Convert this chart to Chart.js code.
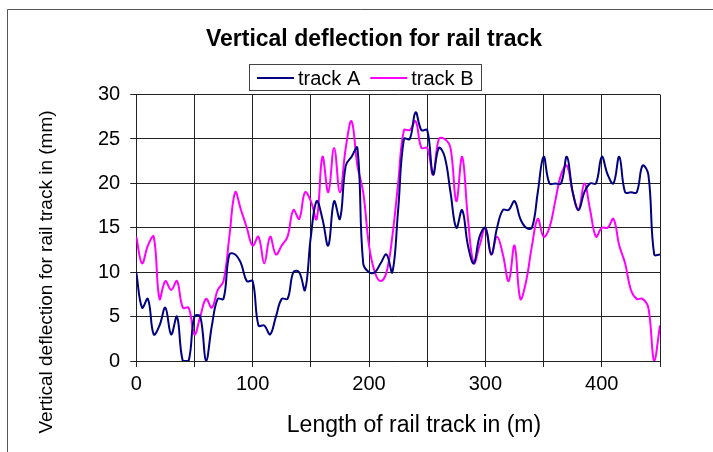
<!DOCTYPE html>
<html>
<head>
<meta charset="utf-8">
<script src="https://cdn.jsdelivr.net/npm/chart.js@4.4.1/dist/chart.umd.min.js"></script>
<style>
  html, body { margin: 0; padding: 0; background: #fff; }
  #wrap { width: 713px; height: 452px; }
</style>
</head>
<body>
<div id="wrap"><canvas id="chart"></canvas></div>
<script>
// distance along the track (m)
const distance = [
  0, 5, 10, 15, 20, 25, 30, 35, 40, 45,
  50, 55, 60, 65, 70, 75, 80, 85, 90, 95,
  100, 105, 110, 115, 120, 125, 130, 135, 140, 145,
  150, 155, 160, 165, 170, 175, 180, 185, 190, 195,
  200, 205, 210, 215, 220, 225, 230, 235, 240, 245,
  250, 255, 260, 265, 270, 275, 280, 285, 290, 295,
  300, 305, 310, 315, 320, 325, 330, 335, 340, 345,
  350, 355, 360, 365, 370, 375, 380, 385, 390, 395,
  400, 405, 410, 415, 420, 425, 430, 435, 440, 445,
  450
];

// vertical deflection (mm)
const trackA = [
  10, 6, 7, 3, 4, 6, 3, 5, 0, 0,
  5, 5, 0, 4, 7, 7, 12, 12, 11, 9,
  9, 4, 4, 3, 5, 7, 7, 10, 10, 8,
  14, 18, 16, 13, 18, 16, 22, 23, 24, 11,
  10, 10, 11, 12, 10, 17, 25, 25, 28, 26,
  26, 21, 24, 23, 19, 15, 17, 13, 11, 14,
  15, 12, 15, 17, 17, 18, 16, 15, 15, 19,
  23, 20, 20, 20, 23, 19, 17, 19, 20, 20,
  23, 21, 20, 23, 19, 19, 19, 22, 21, 12,
  12
];

const trackB = [
  14, 11, 13, 14, 7, 9, 8, 9, 6, 6,
  3, 5, 7, 6, 8, 9, 14, 19, 17, 15,
  13, 14, 11, 14, 12, 13, 14, 17, 16, 19,
  18, 16, 23, 19, 24, 19, 24, 27, 22, 19,
  13, 10, 9, 10, 14, 20, 26, 26, 27, 24,
  24, 21, 25, 25, 24, 18, 23, 16, 11, 13,
  15, 12, 14, 12, 9, 13, 7, 9, 13, 16,
  14, 15, 18, 21, 22, 19, 17, 20, 17, 14,
  15, 15, 16, 13, 11, 8, 7, 7, 6, 0,
  4
];

const xTickLabels = [0, 100, 200, 300, 400];
const yTickLabels = [0, 5, 10, 15, 20, 25, 30];

const fontFamily = '"Liberation Sans", Arial, sans-serif';
const gridColor = '#222';

// frame, custom legend box and axis titles
const decorations = {
  id: 'decorations',
  beforeDraw(chart) {
    const ctx = chart.ctx;
    ctx.save();
    ctx.fillStyle = '#fff';
    ctx.fillRect(0, 0, chart.width, chart.height);
    ctx.strokeStyle = '#555';
    ctx.lineWidth = 1;
    ctx.beginPath();
    ctx.moveTo(7.5, chart.height);
    ctx.lineTo(7.5, 9.5);
    ctx.lineTo(chart.width, 9.5);
    ctx.stroke();
    ctx.restore();
  },
  afterDraw(chart) {
    const ctx = chart.ctx;
    ctx.save();

    // legend
    ctx.font = '20px ' + fontFamily;
    ctx.textBaseline = 'middle';
    const sample = 37, gap = 4, between = 10, pad = 8;
    const items = chart.data.datasets.map(ds => ({
      label: ds.label, color: ds.borderColor, w: ctx.measureText(ds.label).width
    }));
    const total = pad * 2 + items.reduce((s, it) => s + sample + gap + it.w, 0) + between * (items.length - 1);
    const top = 64, h = 26;
    let x = Math.round(365 - total / 2);
    ctx.strokeStyle = '#444';
    ctx.lineWidth = 1;
    ctx.strokeRect(x + 0.5, top + 0.5, Math.round(total), h);
    x += pad;
    const y = top + h / 2 + 1;
    items.forEach(it => {
      ctx.strokeStyle = it.color;
      ctx.lineWidth = 2;
      ctx.beginPath();
      ctx.moveTo(x, y);
      ctx.lineTo(x + sample, y);
      ctx.stroke();
      x += sample + gap;
      ctx.fillStyle = '#000';
      ctx.fillText(it.label, x, y + 1);
      x += it.w + between;
    });

    // axis titles
    ctx.fillStyle = '#000';
    ctx.textAlign = 'center';
    ctx.font = '23px ' + fontFamily;
    ctx.fillText('Length of rail track in (m)', 414, 426);
    ctx.translate(47, 272);
    ctx.rotate(-Math.PI / 2);
    ctx.font = '19px ' + fontFamily;
    ctx.fillText('Vertical deflection for rail track in (mm)', 0, 0);
    ctx.restore();
  }
};

const ctx = document.getElementById('chart').getContext('2d');
new Chart(ctx, {
  type: 'line',
  data: {
    datasets: [{
      label: 'track A',
      data: distance.map((d, i) => ({ x: d, y: trackA[i] })),
      borderColor: '#000080',
      backgroundColor: '#000080',
      borderWidth: 2,
      pointRadius: 0,
      tension: 0.4,
      fill: false
    }, {
      label: 'track B',
      data: distance.map((d, i) => ({ x: d, y: trackB[i] })),
      borderColor: '#FF00FF',
      backgroundColor: '#FF00FF',
      borderWidth: 2,
      pointRadius: 0,
      tension: 0.4,
      fill: false
    }]
  },
  options: {
    responsive: true,
    maintainAspectRatio: false,
    animation: false,
    layout: { padding: { left: 88, right: 53, top: 0, bottom: 51 } },
    plugins: {
      legend: { display: false },
      tooltip: { enabled: false },
      title: {
        display: true,
        text: 'Vertical deflection for rail track',
        color: '#000',
        font: { family: fontFamily, size: 23, weight: 'bold' },
        padding: { top: 26, bottom: 41 }
      }
    },
    scales: {
      x: {
        type: 'linear',
        min: 0,
        max: 450,
        ticks: {
          stepSize: 50,
          autoSkip: false,
          maxRotation: 0,
          padding: 5,
          color: '#000',
          font: { family: fontFamily, size: 20 },
          callback: v => xTickLabels.includes(v) ? String(v) : ''
        },
        grid: { color: gridColor, lineWidth: 1, tickLength: 6 },
        border: { color: gridColor, width: 1 }
      },
      y: {
        min: 0,
        max: 30,
        ticks: {
          stepSize: 5,
          padding: 10,
          color: '#000',
          font: { family: fontFamily, size: 20 },
          callback: v => yTickLabels.includes(v) ? String(v) : ''
        },
        grid: { color: gridColor, lineWidth: 1, tickLength: 6 },
        border: { color: gridColor, width: 1 }
      }
    }
  },
  plugins: [decorations]
});
</script>
</body>
</html>
